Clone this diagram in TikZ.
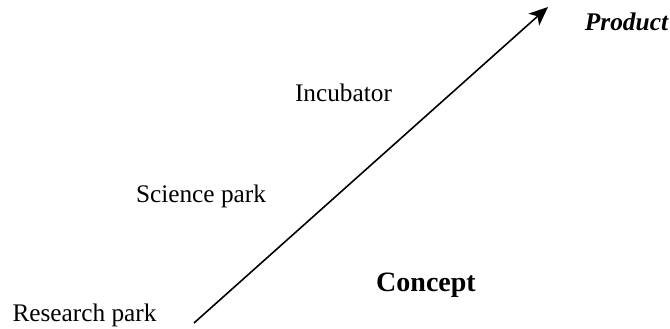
\documentclass[tikz,border=0pt]{standalone}
\usepackage{fontspec}
\setmainfont{Liberation Serif}
\usetikzlibrary{arrows.meta}
\begin{document}
\begin{tikzpicture}[x=1pt,y=-1pt,
  lbl/.style={font=\fontsize{25.3}{29}\selectfont, inner sep=0pt},
  bold/.style={font=\fontsize{28}{32}\selectfont\bfseries, inner sep=0pt}]
\useasboundingbox (0,0) rectangle (670,329);
\node[lbl] (research) at (84.5,315) {Research park};
\node[lbl] (science) at (201,196) {Science park};
\node[lbl] (incubator) at (343.5,93) {Incubator};
\node[bold] (concept) at (426,285) {Concept};
\node[bold, font=\fontsize{25.4}{29}\selectfont\bfseries\itshape] (product) at (626.5,22) {Product};
\coordinate (start) at (194,323);
\coordinate (end) at (548,7);
\draw[line width=1.6pt, -{Stealth[length=19pt, width=16pt, inset=5pt]}] (start) -- (end);
\end{tikzpicture}
\end{document}
